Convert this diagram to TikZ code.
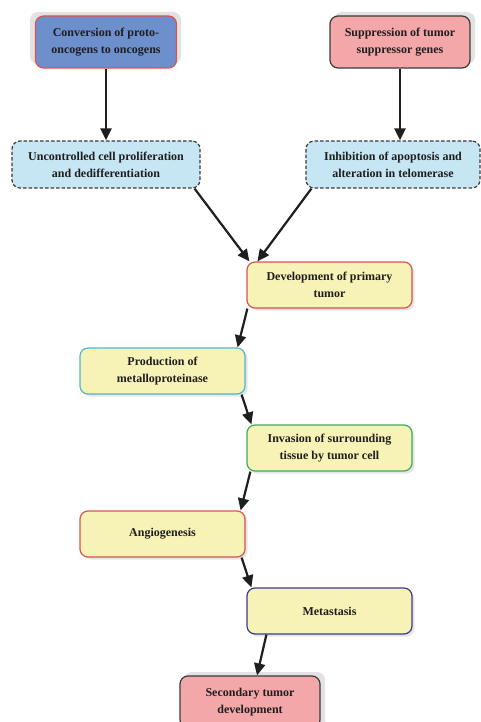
\documentclass[tikz,border=0pt]{standalone}
\usepackage{fontspec}
\setmainfont{Liberation Serif}
\usetikzlibrary{arrows.meta,calc}
\definecolor{cblue}{HTML}{6D8FCC}
\definecolor{cpink}{HTML}{F4A7A9}
\definecolor{clblue}{HTML}{C6E6F3}
\definecolor{cyel}{HTML}{F7F3B6}
\definecolor{cred}{HTML}{D9534F}
\definecolor{ccyan}{HTML}{4DB6D2}
\definecolor{cgreen}{HTML}{3DAA5C}
\definecolor{cnavy}{HTML}{3B3B8C}
\definecolor{cdark}{HTML}{3A3A3A}
\definecolor{cshadow}{HTML}{E2E2E2}
\definecolor{ctext}{HTML}{1E1E1E}
\begin{document}
\begin{tikzpicture}[x=1pt,y=-1pt,
  box/.style={rectangle,rounded corners=8pt,line width=1.2pt,align=center,
    font=\fontsize{12}{17}\selectfont\bfseries,text=ctext,inner sep=2pt},
  ybox/.style={box,fill=cyel,minimum width=165pt,minimum height=46pt},
  dbox/.style={box,fill=clblue,draw=cdark,dashed,dash pattern=on 3.5pt off 2pt,minimum height=47pt},
  shad/.style={fill=cshadow,rounded corners=8pt},
  softshad/.style={fill=black!10,rounded corners=8pt},
  arr/.style={draw=black!88,line width=2.2pt,-{Triangle[length=12pt,width=11pt]}}]
\useasboundingbox (0,0) rectangle (481,722);
% shadows
\fill[shad] (30,12) rectangle (181,64);
\fill[shad] (334,12) rectangle (475,64);
\fill[shad] (184,672) rectangle (325,730);
\foreach \cx/\cy in {329.5/285,162.5/371,329.5/448,162.5/534,329.5/611}{
  \fill[softshad] (\cx-82.5+2.5,\cy-23+2.5) rectangle (\cx+82.5+2.5,\cy+23+2.5);
}
% nodes
\node[box,fill=cblue,draw=cred,minimum width=141pt,minimum height=52pt] (conv) at (106,42) {Conversion of proto-\\oncogens to oncogens};
\node[box,fill=cpink,draw=cdark,minimum width=140pt,minimum height=52pt] (supp) at (400,42) {Suppression of tumor\\suppressor genes};
\node[dbox,minimum width=188pt] (unc) at (106,164.5) {Uncontrolled cell proliferation\\and dedifferentiation};
\node[dbox,minimum width=174pt] (inh) at (393,164.5) {Inhibition of apoptosis and\\alteration in telomerase};
\node[ybox,draw=cred] (dev) at (329.5,285) {Development of primary\\tumor};
\node[ybox,draw=ccyan] (prod) at (162.5,371) {Production of\\metalloproteinase};
\node[ybox,draw=cgreen] (inv) at (329.5,448) {Invasion of surrounding\\tissue by tumor cell};
\node[ybox,draw=cred] (ang) at (162.5,534) {Angiogenesis};
\node[ybox,draw=cnavy] (met) at (329.5,611) {Metastasis};
\node[box,fill=cpink,draw=cdark,minimum width=140pt,minimum height=52pt] (sec) at (250,702) {Secondary tumor\\development};
% connectors
\draw[arr] (conv.south) -- (unc.north);
\draw[arr] (supp.south) -- ([xshift=7pt]inh.north);
\draw[arr] ([xshift=-6pt]unc.south east) -- ([xshift=3pt]dev.north west);
\draw[arr] ([xshift=6pt]inh.south west) -- ([xshift=11pt]dev.north west);
\draw[arr] ([xshift=1pt]dev.south west) -- ([xshift=-8pt]prod.north east);
\draw[arr] ([xshift=-4pt]prod.south east) -- ([xshift=5pt]inv.north west);
\draw[arr] ([xshift=4pt]inv.south west) -- ([xshift=-5pt]ang.north east);
\draw[arr] ([xshift=-4pt]ang.south east) -- ([xshift=5pt]met.north west);
\draw[arr] ([xshift=20pt]met.south west) -- ([xshift=7pt]sec.north);
\end{tikzpicture}
\end{document}
